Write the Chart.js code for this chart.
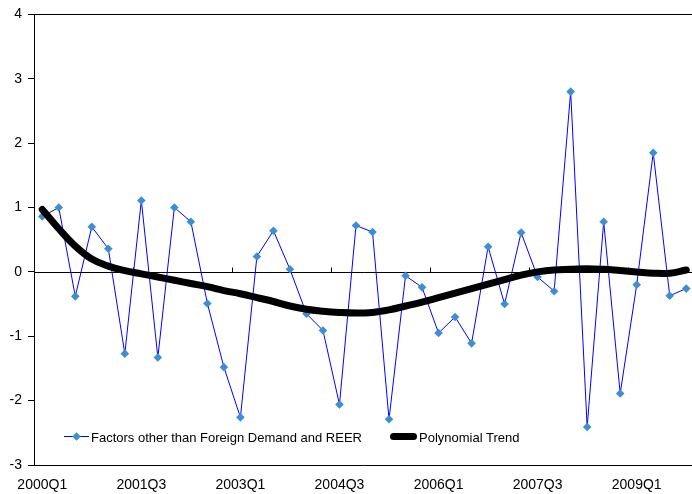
<!DOCTYPE html>
<html>
<head>
<meta charset="utf-8">
<script src="https://cdn.jsdelivr.net/npm/chart.js@4"></script>
<style>
html,body{margin:0;padding:0;background:#fff;overflow:hidden;width:692px;height:494px;}
#wrap{position:relative;width:700px;height:494px;}
#c{position:absolute;left:0;top:0;}
.lg{position:absolute;font:13px "Liberation Sans",Arial,sans-serif;color:#000;white-space:nowrap;line-height:13px;}
.seg{position:absolute;}
</style>
</head>
<body>
<div id="wrap">
<canvas id="c" width="700" height="494"></canvas>
<div class="seg" style="left:64px;top:436px;width:25px;height:1px;background:#0000ff"></div>
<div class="seg" style="left:73px;top:433px;width:7px;height:7px;background:#3d8fcf;transform:rotate(45deg) scale(.85)"></div>
<div class="lg" style="left:91px;top:431px">Factors other than Foreign Demand and REER</div>
<div class="seg" style="left:390px;top:433px;width:27px;height:7px;background:#000;border-radius:3.5px"></div>
<div class="lg" style="left:419px;top:431px">Polynomial Trend</div>
</div>
<script>
'use strict';
const QUARTERS=['2000Q1','2000Q2','2000Q3','2000Q4','2001Q1','2001Q2','2001Q3','2001Q4','2002Q1','2002Q2','2002Q3','2002Q4',
  '2003Q1','2003Q2','2003Q3','2003Q4','2004Q1','2004Q2','2004Q3','2004Q4','2005Q1','2005Q2','2005Q3','2005Q4',
  '2006Q1','2006Q2','2006Q3','2006Q4','2007Q1','2007Q2','2007Q3','2007Q4','2008Q1','2008Q2','2008Q3','2008Q4',
  '2009Q1','2009Q2','2009Q3','2009Q4'];
const FACTORS=[0.86,1.00,-0.38,0.70,0.36,-1.27,1.11,-1.33,1.00,0.78,-0.49,-1.48,
  -2.26,0.24,0.64,0.04,-0.65,-0.91,-2.06,0.72,0.62,-2.29,-0.06,-0.24,
  -0.95,-0.70,-1.11,0.39,-0.50,0.61,-0.08,-0.30,2.80,-2.41,0.78,-1.89,
  -0.20,1.85,-0.37,-0.26];
const TREND=[0.97,0.67,0.40,0.20,0.09,0.02,-0.03,-0.08,-0.13,-0.18,-0.23,-0.29,
  -0.34,-0.40,-0.46,-0.53,-0.58,-0.61,-0.63,-0.64,-0.63,-0.59,-0.53,-0.47,
  -0.40,-0.33,-0.26,-0.19,-0.12,-0.05,0.00,0.03,0.04,0.05,0.04,0.02,
  0.00,-0.02,-0.02,0.03];
const LABEL_EVERY=6;
const FONT={family:'"Liberation Sans", Arial, sans-serif',size:14};

const axisLines={
  id:'axisLines',
  beforeDatasetsDraw(chart){
    const {ctx,chartArea:a,scales:{x,y}}=chart;
    const y0=Math.round(y.getPixelForValue(0))+0.5;
    ctx.save();
    ctx.strokeStyle='#000';ctx.lineWidth=1;
    ctx.beginPath();
    ctx.moveTo(a.left,y0);ctx.lineTo(a.right,y0);
    for(let i=LABEL_EVERY;i<QUARTERS.length;i+=LABEL_EVERY){
      const px=Math.round((x.getPixelForValue(i-1)+x.getPixelForValue(i))/2)+0.5;
      ctx.moveTo(px,y0);ctx.lineTo(px,y0-5);
    }
    const t=Math.round(a.top)+0.5;
    ctx.moveTo(a.left,t);ctx.lineTo(chart.width,t);
    ctx.stroke();
    ctx.restore();
  }
};

new Chart(document.getElementById('c'),{
  type:'line',
  data:{labels:QUARTERS,datasets:[
    {label:'Polynomial Trend',data:TREND,borderColor:'#000',borderWidth:7,pointRadius:0,tension:0.4,
     borderCapStyle:'round',borderJoinStyle:'round',fill:false},
    {label:'Factors other than Foreign Demand and REER',data:FACTORS,borderColor:'#0000ff',borderWidth:1,
     pointStyle:'rectRot',pointRadius:4.3,pointBackgroundColor:'#3d8fcf',pointBorderColor:'#3d8fcf',pointBorderWidth:0,
     tension:0,fill:false}
  ]},
  options:{
    responsive:false,animation:false,
    layout:{padding:{top:14,right:5.5,left:0,bottom:0}},
    plugins:{legend:{display:false},tooltip:{enabled:false},title:{display:false}},
    scales:{
      x:{offset:true,
        grid:{display:false,drawTicks:false},
        border:{display:true,color:'#000',width:1},
        ticks:{autoSkip:false,maxRotation:0,color:'#000',font:FONT,padding:12,
          callback:(v,i)=>i%LABEL_EVERY===0?QUARTERS[i]:''},
        afterFit:s=>{s.height=29;}},
      y:{min:-3,max:4,
        grid:{display:true,drawOnChartArea:false,drawTicks:true,tickLength:6,color:'#000'},
        border:{display:true,color:'#000',width:1},
        ticks:{stepSize:1,color:'#000',font:FONT,padding:6},
        afterFit:s=>{s.width=34;}}
    }
  },
  plugins:[axisLines]
});
</script>
</body>
</html>
